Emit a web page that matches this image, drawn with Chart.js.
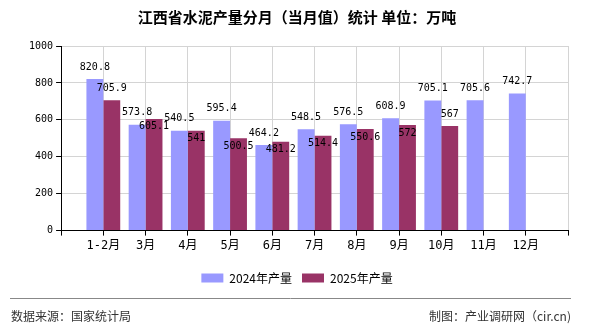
<!DOCTYPE html>
<html>
<head>
<meta charset="utf-8">
<script src="https://cdn.jsdelivr.net/npm/chart.js@4"></script>
<style>
  html, body { margin: 0; padding: 0; background: #fff; }
  #wrap { width: 590px; height: 330px; position: relative; }
</style>
</head>
<body>
<div id="wrap"><canvas id="myChart" width="590" height="330"></canvas></div>
<script>
// 分月数据
const months = ['1-2月', '3月', '4月', '5月', '6月', '7月', '8月', '9月', '10月', '11月', '12月'];
const output2024 = [820.8, 573.8, 540.5, 595.4, 464.2, 548.5, 576.5, 608.9, 705.1, 705.6, 742.7];
const output2025 = [705.9, 605.1, 541, 500.5, 481.2, 514.4, 550.6, 572, 567, null, null];
const yTicks = [0, 200, 400, 600, 800, 1000];

const monoFont = '"DejaVu Sans Mono", "Noto Sans CJK SC", monospace';
const cjkFont = '"Noto Sans CJK SC", sans-serif';

// pad one empty slot on each side so the gridlines sit on the bars
const labels = [''].concat(months, ['']);
const pad = arr => [null].concat(arr, [null]);

const valueLabels = {
    id: 'valueLabels',
    afterDatasetsDraw(chart) {
        const ctx = chart.ctx;
        const m0 = chart.getDatasetMeta(0);
        const m1 = chart.getDatasetMeta(1);
        ctx.save();
        ctx.font = '10px ' + monoFont;
        ctx.fillStyle = '#000';
        ctx.textAlign = 'center';
        ctx.textBaseline = 'middle';
        for (let i = 0; i < labels.length; i++) {
            const a = m0.data[i], b = m1.data[i];
            const va = chart.data.datasets[0].data[i];
            const vb = chart.data.datasets[1].data[i];
            let ya = null;
            if (va !== null) {
                ya = a.y - 12;
                ctx.fillText(String(va), a.x, ya);
            }
            if (vb !== null) {
                let yb = b.y - 12;
                // move the 2025 label into the bar when it would hit the 2024 one
                if (ya !== null && Math.abs(ya - yb) < 20) yb = b.y + 8;
                ctx.fillText(String(vb), b.x, yb);
            }
        }
        ctx.restore();
    }
};

const footer = {
    id: 'footer',
    afterDraw(chart) {
        const ctx = chart.ctx;
        ctx.save();
        ctx.strokeStyle = '#888';
        ctx.lineWidth = 1;
        ctx.beginPath();
        ctx.moveTo(10, 298.5);
        ctx.lineTo(571, 298.5);
        ctx.stroke();
        ctx.font = '12px ' + cjkFont;
        ctx.fillStyle = '#333';
        ctx.textBaseline = 'middle';
        ctx.textAlign = 'left';
        ctx.fillText('数据来源：国家统计局', 11, 316);
        ctx.textAlign = 'right';
        ctx.fillText('制图：产业调研网（cir.cn)', 571, 316);
        ctx.restore();
    }
};

const ctx = document.getElementById('myChart').getContext('2d');

const myChart = new Chart(ctx, {
    type: 'bar',
    data: {
        labels: labels,
        datasets: [
            {
                label: '2024年产量',
                data: pad(output2024),
                backgroundColor: '#9999FF',
                borderWidth: 0
            },
            {
                label: '2025年产量',
                data: pad(output2025),
                backgroundColor: '#993366',
                borderWidth: 0
            }
        ]
    },
    options: {
        responsive: false,
        animation: false,
        events: [],
        layout: { padding: { left: 26, right: 22, top: 0, bottom: 36 } },
        datasets: { bar: { categoryPercentage: 0.8, barPercentage: 1.0 } },
        scales: {
            x: {
                offset: false,
                grid: { offset: false, color: '#d4d4d4', tickColor: '#000', tickLength: 5 },
                border: { color: '#000' },
                ticks: { color: '#000', font: { family: monoFont, size: 12 }, padding: 3, maxRotation: 0, autoSkip: false },
                afterFit: axis => { axis.height += 6; }
            },
            y: {
                min: 0,
                max: 1000,
                afterBuildTicks: axis => { axis.ticks = yTicks.map(v => ({ value: v })); },
                grid: { color: '#d4d4d4', tickColor: '#000', tickLength: 5 },
                border: { color: '#000' },
                ticks: { color: '#000', font: { family: monoFont, size: 10 }, padding: 3, callback: v => String(v) }
            }
        },
        plugins: {
            title: {
                display: true,
                text: '江西省水泥产量分月（当月值）统计 单位：万吨',
                color: '#000',
                font: { family: cjkFont, size: 15, weight: 'bold' },
                padding: { top: 8, bottom: 20 }
            },
            legend: {
                position: 'bottom',
                labels: {
                    boxWidth: 22,
                    boxHeight: 9,
                    color: '#000',
                    padding: 10,
                    font: { family: cjkFont, size: 12 }
                }
            },
            tooltip: { enabled: false }
        }
    },
    plugins: [valueLabels, footer]
});
</script>
</body>
</html>
